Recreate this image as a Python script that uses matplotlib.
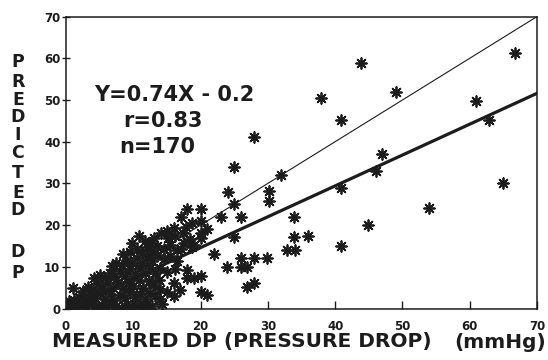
import matplotlib
matplotlib.use("Agg")
import matplotlib.pyplot as plt
import numpy as np

# measured vs predicted pressure drop (mmHg)
measured = [
    66.7, 43.9, 37.9, 49.0, 61.0, 40.9, 62.9, 47.0, 46.0, 40.9, 64.9, 54.0, 44.9,
    35.9, 33.9, 33.9, 32.9, 34.1, 40.9, 25.0, 32.0, 24.1, 30.1, 30.1, 25.0, 18.0,
    20.1, 17.1, 23.1, 26.0, 20.1, 21.0, 20.1, 17.4, 20.1, 25.0, 19.0, 17.1, 22.0,
    26.0, 28.0, 29.9, 24.0, 26.0, 26.9, 18.0, 18.0, 19.0, 20.1, 26.9, 28.0, 20.1,
    21.0, 10.9, 14.1, 13.1, 15.2, 28.0, 1.0, 16.0, 14.0, 16.0, 14.0, 18.8, 14.0,
    # dense cluster near the origin
    0.3, 0.8, 1.5, 2.2, 3.0, 3.8, 4.5, 5.3, 6.0, 6.8, 7.5, 8.3, 9.0, 9.8, 10.5,
    11.3, 12.0, 12.8,
    1.2, 2.0, 2.8, 3.5, 4.3, 5.0, 5.8, 6.5, 7.2, 8.0, 8.8, 9.5, 10.3, 11.0, 11.8,
    12.5, 13.2,
    2.5, 3.3, 4.0, 4.8, 5.5, 6.3, 7.0, 7.8, 8.5, 9.3, 10.0, 10.8, 11.5, 12.3, 13.0,
    4.2, 5.0, 5.8, 6.5, 7.2, 8.0, 8.8, 9.5, 10.3, 11.0, 11.8, 12.5, 13.3, 15.0, 16.2,
    6.8, 7.5, 8.3, 9.0, 9.8, 10.5, 11.3, 12.0, 12.8, 13.5, 14.5, 15.5, 16.5,
    8.5, 9.5, 10.5, 11.3, 12.0, 12.8, 13.6, 14.5, 15.5, 16.5, 17.5, 18.5,
    9.8, 11.8, 16.2, 17.8, 18.8, 16.0, 12.5, 15.0,
    0.5, 1.8, 3.2, 14.2, 15.0, 17.0, 13.8,
]
predicted = [
    61.3, 58.9, 50.5, 52.0, 49.8, 45.2, 45.2, 37.1, 33.0, 28.9, 30.1, 24.1, 20.0,
    17.4, 22.0, 17.2, 14.0, 14.0, 15.0, 34.0, 32.0, 27.9, 28.2, 25.8, 25.1, 23.9,
    23.9, 22.0, 22.0, 22.0, 21.0, 19.1, 18.1, 18.1, 16.9, 17.2, 15.2, 14.3, 13.1,
    12.1, 12.1, 12.1, 10.0, 10.0, 10.0, 9.2, 7.3, 7.3, 7.8, 5.2, 6.1, 4.0,
    3.2, 17.4, 18.1, 16.9, 16.9, 41.1, 5.0, 6.0, 4.7, 3.0, 2.3, 14.8, 9.7,
    0.2, 0.8, 0.3, 1.0, 0.4, 1.2, 0.5, 0.9, 0.3, 1.1, 0.6, 0.2, 1.0, 0.4, 0.8,
    0.3, 1.2, 0.5,
    2.0, 2.8, 2.2, 3.4, 2.6, 3.8, 2.4, 3.6, 2.1, 3.3, 2.5, 3.9, 2.7, 3.5, 2.2,
    3.8, 2.9,
    4.3, 5.2, 4.6, 5.8, 4.8, 6.1, 5.0, 6.4, 4.9, 6.2, 5.3, 6.8, 5.0, 6.5, 5.6,
    7.2, 8.0, 7.4, 8.6, 7.6, 9.0, 7.8, 9.4, 8.2, 9.6, 8.4, 9.8, 8.6, 8.8, 9.4,
    10.2, 10.9, 10.4, 11.4, 10.8, 12.0, 11.0, 12.4, 11.4, 12.8, 11.8, 12.6, 11.5,
    13.0, 13.6, 14.2, 13.3, 14.8, 13.8, 15.0, 14.2, 15.2, 14.0, 15.8, 16.6,
    15.8, 16.2, 17.4, 19.6, 20.6, 19.2, 15.8, 18.5,
    1.8, 1.2, 1.5, 1.0, 4.0, 4.5, 6.8,
]

slope, intercept = 0.74, -0.2
stats = ["Y=0.74X - 0.2", "r=0.83", "n=170"]
ticks = [0, 10, 20, 30, 40, 50, 60, 70]
ink = "#1c1c1c"

plt.rcParams["font.family"] = ["DejaVu Sans"]
plt.rcParams["font.weight"] = "bold"

fig = plt.figure(figsize=(5.48, 3.6), dpi=100)
ax = fig.add_axes([0.1204, 0.143, 0.8596, 0.811])

ax.scatter(measured, predicted, marker=(8, 2, 0), s=60, color=ink,
           linewidths=1.3, zorder=3)

# line of identity and regression line
ax.plot([0, 70], [0, 70], color=ink, lw=0.8)
xs = np.array([0, 70])
ax.plot(xs, slope * xs + intercept, color=ink, lw=2.3)

ax.set_xlim(0, 70)
ax.set_ylim(0, 70)
ax.set_xticks(ticks)
ax.set_yticks(ticks)
ax.tick_params(axis="x", direction="in", length=6, width=1.0, pad=8,
               labelsize=8.5, colors=ink)
ax.tick_params(axis="y", direction="inout", length=6, width=1.0, pad=1,
               labelsize=8.5, colors=ink)
for lbl in ax.get_xticklabels() + ax.get_yticklabels():
    lbl.set_fontweight("bold")
for sp in ax.spines.values():
    sp.set_linewidth(1.1)
    sp.set_color(ink)

# regression statistics
ax.text(16.1, 51.2, stats[0], ha="center", va="center", fontsize=15,
        fontweight="bold", color=ink)
ax.text(14.4, 45.0, stats[1], ha="center", va="center", fontsize=15,
        fontweight="bold", color=ink)
ax.text(13.5, 38.8, stats[2], ha="center", va="center", fontsize=15,
        fontweight="bold", color=ink)

# stacked y label
letters = list("PREDICTED") + list("DP")
rows = [62, 82, 100, 117, 135, 153, 173, 193, 210, 252, 273]
for ch, py in zip(letters, rows):
    fig.text(18 / 548, 1 - py / 360, ch, ha="center", va="center",
             fontsize=12.5, fontweight="bold", color=ink)

fig.text(52 / 548, 1 - 342 / 360, "MEASURED DP (PRESSURE DROP)", ha="left",
         va="center", fontsize=14.5, fontweight="bold", color=ink)
fig.text(546 / 548, 1 - 342 / 360, "(mmHg)", ha="right", va="center",
         fontsize=14.5, fontweight="bold", color=ink)

fig.savefig("out.png", dpi=100, facecolor="white")
